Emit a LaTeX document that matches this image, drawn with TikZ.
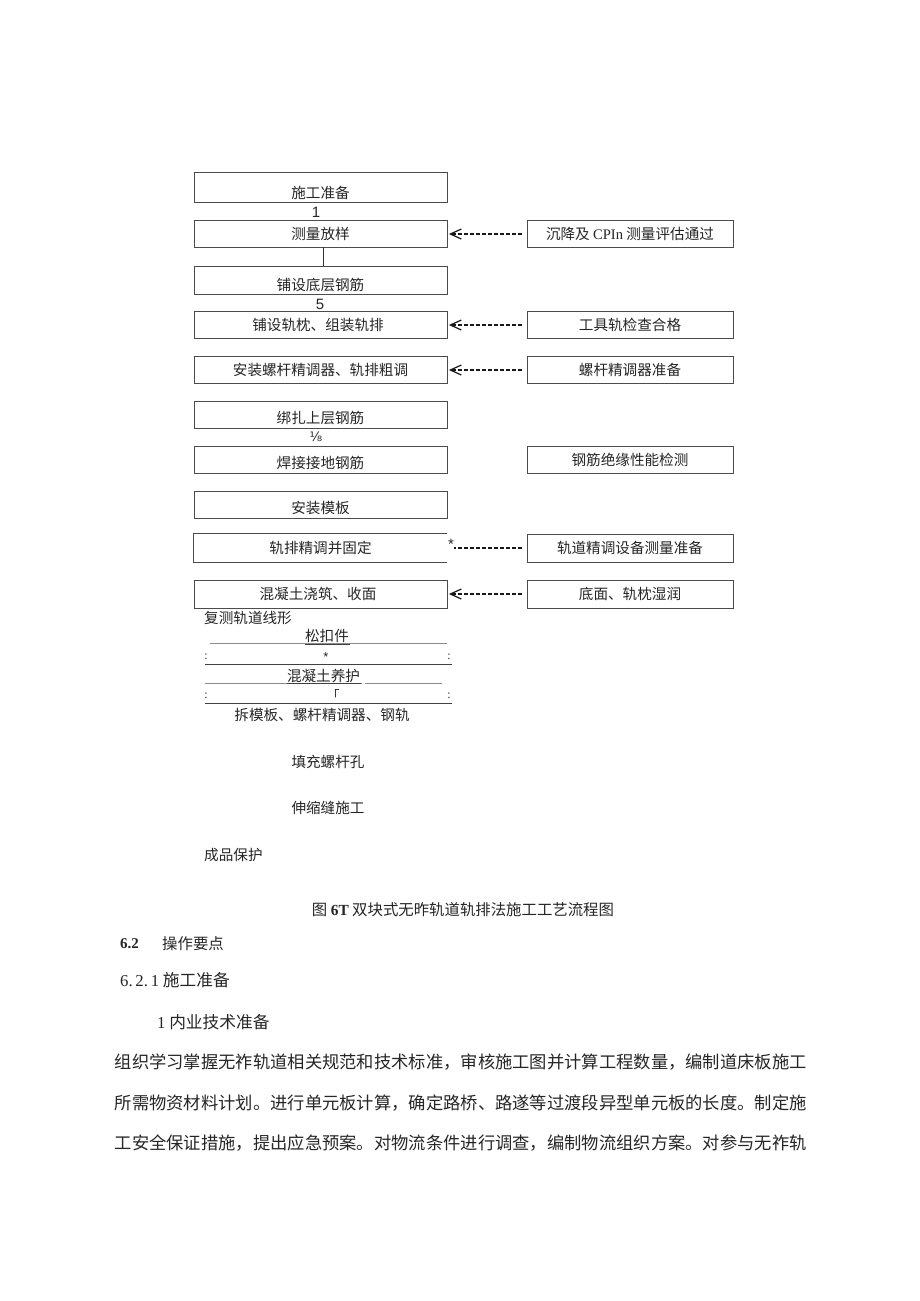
\documentclass[tikz,border=0pt]{standalone}
\usepackage{fontspec}
\setmainfont{Noto Sans CJK SC}
\newfontfamily\lat{Liberation Serif}
\newfontfamily\las{Liberation Sans}
\newfontfamily\dvs{DejaVu Sans}
\usetikzlibrary{arrows.meta}
\begin{document}
\begin{tikzpicture}[x=1pt,y=-1pt,
  box/.style={draw=black!70, line width=0.8pt, inner sep=0pt, minimum width=253pt},
  rbox/.style={draw=black!70, line width=0.8pt, inner sep=0pt, minimum width=206pt},
  ft/.style={font=\fontsize{14.6}{16}\selectfont, text=black!85, inner sep=0pt},
  pt/.style={font=\fontsize{17.3}{20}\selectfont, text=black!85, inner sep=0pt, anchor=west},
  dline/.style={dash pattern=on 4pt off 2pt, line width=1.7pt, draw=black!90},
  ltip/.style={-{Straight Barb[length=11pt,width=10pt,line width=1.2pt]}},
  gline/.style={draw=black!45, line width=0.7pt},
  kline/.style={draw=black!75, line width=0.8pt}]
\fill[white] (0,0) rectangle (920,1301);
\useasboundingbox (0,0) rectangle (920,1301);
% left boxes
\node[box, minimum height=30pt] (b1) at (320.5,187) {};
\node[box, minimum height=27pt] (b2) at (320.5,233.5) {};
\node[box, minimum height=28pt] (b3) at (320.5,280) {};
\node[box, minimum height=27pt] (b4) at (320.5,324.5) {};
\node[box, minimum height=27pt] (b5) at (320.5,369.5) {};
\node[box, minimum height=27pt] (b6) at (320.5,414.5) {};
\node[box, minimum height=27pt] (b7) at (320.5,459.5) {};
\node[box, minimum height=27pt] (b8) at (320.5,504.5) {};
\node[box, draw=none, minimum height=28pt] (b9) at (320.5,548) {};
\draw[draw=black!70, line width=0.8pt] (b9.north east) -- (b9.north west) -- (b9.south west) -- (b9.south east);
\node[box, minimum height=28pt] (b10) at (320.5,594) {};
% left labels
\node[ft] (t1) at (320.5,193) {施工准备};
\node[ft] (t2) at (320.5,234) {测量放样};
\node[ft] (t3) at (320.5,285) {铺设底层钢筋};
\node[ft] (t4) at (318,325) {铺设轨枕、组装轨排};
\node[ft] (t5) at (320.5,370) {安装螺杆精调器、轨排粗调};
\node[ft] (t6) at (320.5,418) {绑扎上层钢筋};
\node[ft] (t7) at (320.5,463) {焊接接地钢筋};
\node[ft] (t8) at (320.5,508) {安装模板};
\node[ft] (t9) at (320.5,548) {轨排精调并固定};
\node[ft] (t10) at (318,594) {混凝土浇筑、收面};
% small marks between boxes
\node[ft, font=\las\fontsize{15}{16}\selectfont] (n1) at (316,212) {1};
\node[ft, font=\las\fontsize{15}{16}\selectfont] (n5) at (320,304) {5};
\node[ft, font=\dvs\fontsize{13}{14}\selectfont] (n8) at (316,437) {⅛};
\draw[draw=black!80, line width=0.8pt] ([xshift=2.5pt]b2.south) -- ([xshift=2.5pt]b3.north);
% right boxes
\node[rbox, minimum height=27pt] (r1) at (630,233.5) {};
\node[rbox, minimum height=27pt] (r2) at (630,324.5) {};
\node[rbox, minimum height=27pt] (r3) at (630,369.5) {};
\node[rbox, minimum height=27pt] (r4) at (630,459.5) {};
\node[rbox, minimum height=28pt] (r5) at (630,548) {};
\node[rbox, minimum height=28pt] (r6) at (630,594) {};
\node[ft] at (r1) {沉降及 {\lat CPIn} 测量评估通过};
\node[ft] at (r2) {工具轨检查合格};
\node[ft] at (r3) {螺杆精调器准备};
\node[ft] at (r4) {钢筋绝缘性能检测};
\node[ft] at (r5) {轨道精调设备测量准备};
\node[ft] at (r6) {底面、轨枕湿润};
% dashed connectors
\draw[dline, ltip] ([xshift=-5pt,yshift=-0.5pt]r1.west) -- ([xshift=1.5pt,yshift=-0.5pt]b2.east);
\draw[dline, ltip] ([xshift=-5pt,yshift=-0.5pt]r2.west) -- ([xshift=1.5pt,yshift=-0.5pt]b4.east);
\draw[dline, ltip] ([xshift=-5pt,yshift=-0.5pt]r3.west) -- ([xshift=1.5pt,yshift=-0.5pt]b5.east);
\draw[dline, ltip] ([xshift=-5pt]r6.west) -- ([xshift=1.5pt]b10.east);
\node[ft, font=\las\fontsize{15}{16}\selectfont] (star) at (451,544) {*};
\draw[dline] ([xshift=-5pt]r5.west) -- (r5.west -| star.east);
% lower part
\node[ft, anchor=west] (c1) at (204,618) {复测轨道线形};
\node[ft] (c2) at (327,636) {松扣件};
\draw[gline] (210,643.5) -- (447,643.5);
\draw[kline] (c2.south west) ++(0,1) -- ++(45,0);
\node[ft, font=\las\fontsize{13}{14}\selectfont] (c3) at (326,657) {*};
\node[ft, font=\lat\fontsize{12}{13}\selectfont] (d1) at (206,657) {:};
\node[ft, font=\lat\fontsize{12}{13}\selectfont] (d2) at (449,657) {:};
\draw[kline] (205,664) -- (452,664);
\node[ft] (c4) at (323.5,676) {混凝土养护};
\draw[gline] (205,683.5) -- (362,683.5);
\draw[gline] (365,683.5) -- (442,683.5);
\draw[kline] (287,683.5) -- (361,683.5);
\node[ft, font=\fontsize{13}{14}\selectfont] (c5) at (333,695) {「};
\node[ft, font=\lat\fontsize{12}{13}\selectfont] (d3) at (206,696) {:};
\node[ft, font=\lat\fontsize{12}{13}\selectfont] (d4) at (449,696) {:};
\draw[kline] (205,703) -- (452,703);
\node[ft] (c6) at (322,715) {拆模板、螺杆精调器、钢轨};
\node[ft] (c7) at (328,762) {填充螺杆孔};
\node[ft] (c8) at (328,808) {伸缩缝施工};
\node[ft, anchor=west] (c9) at (204,855) {成品保护};
% caption and body text
\node[ft, font=\fontsize{15.4}{17}\selectfont] (cap) at (463,910) {图 {\lat\bfseries 6T} 双块式无昨轨道轨排法施工工艺流程图};
\node[pt, font=\lat\bfseries\fontsize{15}{16}\selectfont] (h1a) at (120,944) {6.2};
\node[pt, font=\fontsize{15.4}{17}\selectfont] (h1b) at (162,944) {操作要点};
\node[pt, font=\fontsize{16.7}{18}\selectfont] (h2) at (120,980) {{\lat 6.\,2.\,1} 施工准备};
\node[pt, font=\fontsize{16.7}{18}\selectfont] (h3) at (157,1022) {{\lat 1} 内业技术准备};
\node[pt] (p1) at (114.5,1062) {组织学习掌握无祚轨道相关规范和技术标准，审核施工图并计算工程数量，编制道床板施工};
\node[pt] (p2) at (114.5,1103) {所需物资材料计划。进行单元板计算，确定路桥、路遂等过渡段异型单元板的长度。制定施};
\node[pt] (p3) at (114.5,1143) {工安全保证措施，提出应急预案。对物流条件进行调查，编制物流组织方案。对参与无祚轨};
\end{tikzpicture}
\end{document}
